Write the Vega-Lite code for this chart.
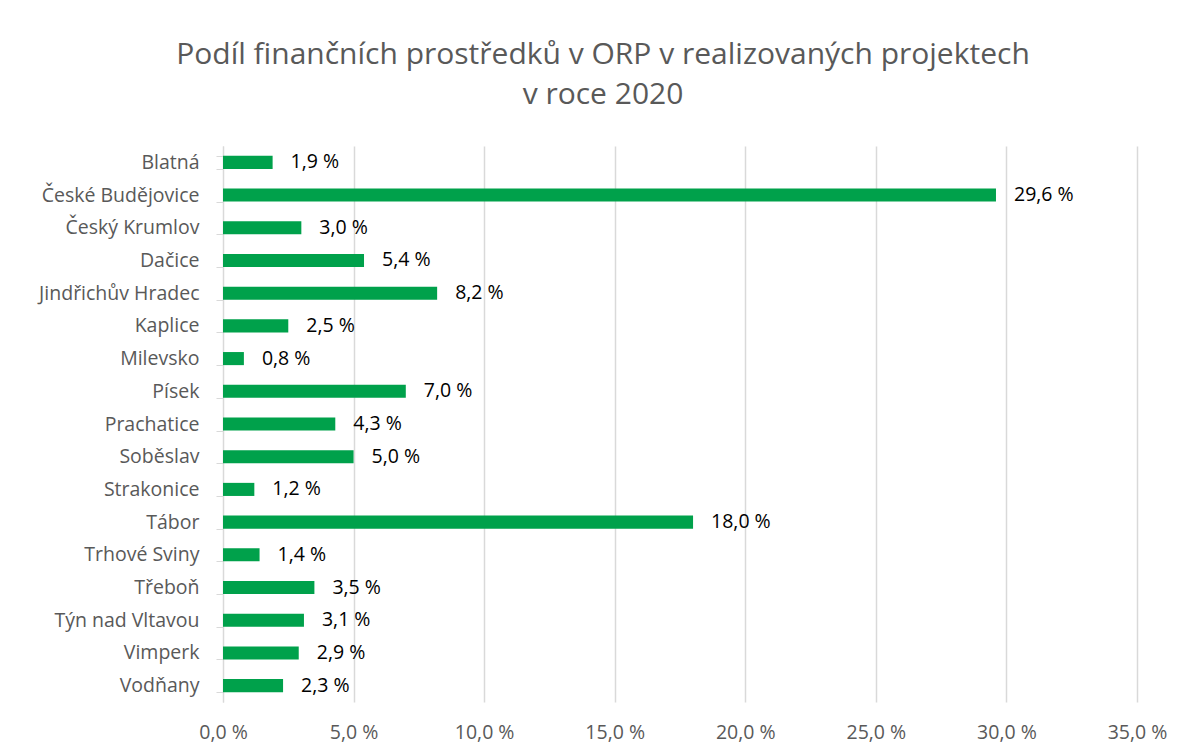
{
  "$schema": "https://vega.github.io/schema/vega-lite/v6.json",
  "width": 914,
  "height": 556,
  "autosize": {"type": "none"},
  "padding": {"left": 223, "top": 146, "right": 52, "bottom": 54},
  "background": "white",
  "config": {
    "locale": {"number": {"decimal": ",", "thousands": " ", "grouping": [3], "currency": ["", " Kč"], "percent": " %"}},
    "view": {"stroke": null},
    "font": "Open Sans"
  },
  "title": {
    "text": ["Podíl finančních prostředků v ORP v realizovaných projektech", "v roce 2020"],
    "anchor": "middle",
    "align": "center",
    "dx": -77,
    "offset": 26,
    "fontSize": 30,
    "fontWeight": "normal",
    "color": "#595959",
    "font": "Open Sans",
    "lineHeight": 40
  },
  "data": {
    "values": [
      {"orp": "Blatná", "podil": 0.019},
      {"orp": "České Budějovice", "podil": 0.296},
      {"orp": "Český Krumlov", "podil": 0.030},
      {"orp": "Dačice", "podil": 0.054},
      {"orp": "Jindřichův Hradec", "podil": 0.082},
      {"orp": "Kaplice", "podil": 0.025},
      {"orp": "Milevsko", "podil": 0.008},
      {"orp": "Písek", "podil": 0.070},
      {"orp": "Prachatice", "podil": 0.043},
      {"orp": "Soběslav", "podil": 0.050},
      {"orp": "Strakonice", "podil": 0.012},
      {"orp": "Tábor", "podil": 0.180},
      {"orp": "Trhové Sviny", "podil": 0.014},
      {"orp": "Třeboň", "podil": 0.035},
      {"orp": "Týn nad Vltavou", "podil": 0.031},
      {"orp": "Vimperk", "podil": 0.029},
      {"orp": "Vodňany", "podil": 0.023}
    ]
  },
  "encoding": {
    "y": {
      "field": "orp",
      "type": "nominal",
      "sort": null,
      "scale": {"paddingInner": 0.6, "paddingOuter": 0.3},
      "axis": {
        "title": null,
        "domainColor": "#d9d9d9",
        "tickColor": "#d9d9d9",
        "tickSize": 7,
        "tickBand": "extent",
        "labelFontSize": 19.5,
        "labelColor": "#595959",
        "labelPadding": 17,
        "labelFont": "Open Sans"
      }
    },
    "x": {
      "field": "podil",
      "type": "quantitative",
      "scale": {"domain": [0, 0.35], "nice": false},
      "axis": {
        "title": null,
        "format": ".1%",
        "values": [0, 0.05, 0.1, 0.15, 0.2, 0.25, 0.3, 0.35],
        "domain": false,
        "ticks": false,
        "labelFlush": false,
        "gridColor": "#d9d9d9",
        "gridWidth": 1.5,
        "labelFontSize": 19.5,
        "labelColor": "#595959",
        "labelPadding": 21,
        "labelFont": "Open Sans"
      }
    }
  },
  "layer": [
    {"mark": {"type": "bar", "color": "#00A14B"}},
    {
      "mark": {"type": "text", "align": "left", "dx": 18, "fontSize": 19.5, "color": "#000000", "font": "Open Sans"},
      "encoding": {"text": {"field": "podil", "type": "quantitative", "format": ".1%"}}
    }
  ]
}
